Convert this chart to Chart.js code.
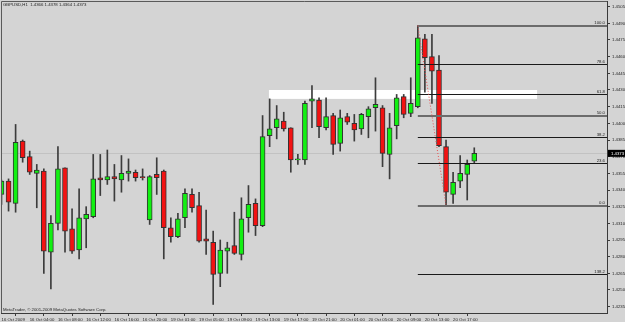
<!DOCTYPE html>
<html>
<head>
<meta charset="utf-8">
<script src="https://cdn.jsdelivr.net/npm/chart.js@4.4.1/dist/chart.umd.min.js"></script>
<style>
    html, body { margin: 0; padding: 0; background: #d4d4d4; }
    #grafico { display: block; }
</style>
</head>
<body>
<canvas id="grafico" width="625" height="322"></canvas>
<script>
// GBPUSD H1, one value per bar (bar 0 = 16 Oct 2009 00:00)
const abertura = [
    1.4336, 1.4348, 1.4328, 1.4384, 1.4370, 1.4355, 1.4357, 1.4284, 1.4310, 1.4360,
    1.4305, 1.4286, 1.4314, 1.4316, 1.4351, 1.4349, 1.4352, 1.4349, 1.4355, 1.4356,
    1.4352, 1.4313, 1.4354, 1.4357, 1.4306, 1.4298, 1.4315, 1.4336, 1.4326, 1.4296,
    1.4293, 1.4265, 1.4285, 1.4290, 1.4282, 1.4315, 1.4328, 1.4308, 1.4389, 1.4396,
    1.4402, 1.4396, 1.4367, 1.4367, 1.4420, 1.4421, 1.4396, 1.4407, 1.4382, 1.4406,
    1.4400, 1.4395, 1.4406, 1.4414, 1.4414, 1.4372, 1.4398, 1.4424, 1.4409, 1.4415,
    1.4476, 1.4460, 1.4448, 1.4379, 1.4336, 1.4348, 1.4354, 1.4366
];
const maxima = [
    1.4349, 1.4350, 1.4399, 1.4385, 1.4375, 1.4363, 1.4359, 1.4317, 1.4379, 1.4360,
    1.4323, 1.4341, 1.4325, 1.4372, 1.4372, 1.4376, 1.4363, 1.4371, 1.4368, 1.4358,
    1.4359, 1.4353, 1.4369, 1.4358, 1.4315, 1.4319, 1.4341, 1.4341, 1.4338, 1.4322,
    1.4303, 1.4295, 1.4293, 1.4320, 1.4333, 1.4344, 1.4332, 1.4407, 1.4422, 1.4416,
    1.4410, 1.4396, 1.4372, 1.4420, 1.4434, 1.4423, 1.4423, 1.4409, 1.4412, 1.4409,
    1.4408, 1.4409, 1.4415, 1.4441, 1.4416, 1.4409, 1.4426, 1.4426, 1.4441, 1.4488,
    1.4480, 1.4480, 1.4461, 1.4385, 1.4356, 1.4371, 1.4367, 1.4378
];
const minima = [
    1.4327, 1.4321, 1.4320, 1.4365, 1.4354, 1.4324, 1.4265, 1.4251, 1.4304, 1.4284,
    1.4283, 1.4278, 1.4288, 1.4315, 1.4335, 1.4345, 1.4330, 1.4338, 1.4348, 1.4348,
    1.4349, 1.4309, 1.4336, 1.4278, 1.4293, 1.4297, 1.4306, 1.4320, 1.4293, 1.4282,
    1.4237, 1.4253, 1.4265, 1.4282, 1.4277, 1.4302, 1.4299, 1.4307, 1.4379, 1.4386,
    1.4393, 1.4356, 1.4363, 1.4363, 1.4396, 1.4387, 1.4394, 1.4372, 1.4375, 1.4399,
    1.4384, 1.4390, 1.4387, 1.4393, 1.4361, 1.4350, 1.4386, 1.4405, 1.4406, 1.4414,
    1.4428, 1.4418, 1.4379, 1.4326, 1.4328, 1.4342, 1.4331, 1.4364
];
const fechamento = [
    1.4348, 1.4329, 1.4383, 1.4369, 1.4356, 1.4358, 1.4285, 1.4310, 1.4359, 1.4303,
    1.4285, 1.4315, 1.4318, 1.4350, 1.4349, 1.4352, 1.4350, 1.4355, 1.4357, 1.4351,
    1.4351, 1.4352, 1.4351, 1.4306, 1.4298, 1.4314, 1.4337, 1.4324, 1.4294, 1.4294,
    1.4264, 1.4286, 1.4288, 1.4283, 1.4314, 1.4327, 1.4308, 1.4388, 1.4395, 1.4404,
    1.4395, 1.4367, 1.4368, 1.4418, 1.4422, 1.4397, 1.4406, 1.4381, 1.4405, 1.4401,
    1.4394, 1.4408, 1.4413, 1.4417, 1.4373, 1.4396, 1.4423, 1.4408, 1.4418, 1.4477,
    1.4459, 1.4447, 1.4380, 1.4338, 1.4347, 1.4355, 1.4363, 1.4373
];

const rotulosTempo = [
    "16 Oct 2009", "16 Oct 04:00", "16 Oct 08:00", "16 Oct 12:00", "16 Oct 16:00",
    "16 Oct 20:00", "19 Oct 01:00", "19 Oct 05:00", "19 Oct 09:00", "19 Oct 13:00",
    "19 Oct 17:00", "19 Oct 21:00", "20 Oct 01:00", "20 Oct 05:00", "20 Oct 09:00",
    "20 Oct 13:00", "20 Oct 17:00"
];
const passoRotulo = 4;

const ticksPreco = [
    1.4235, 1.4250, 1.4265, 1.4280, 1.4295, 1.4310, 1.4325, 1.4340, 1.4355, 1.4370,
    1.4385, 1.4400, 1.4415, 1.4430, 1.4445, 1.4460, 1.4475, 1.4490, 1.4505
];

// fibonacci drawn from the high of bar 59 to the low of bar 63
const niveisFibo = [0, 0.236, 0.382, 0.5, 0.618, 0.786, 1, -0.382];
const rotulosFibo = ["0.0", "23.6", "38.2", "50.0", "61.8", "78.6", "100.0", "138.2"];
const barraTopoFibo = 59;
const barraFundoFibo = 63;

// white rectangle (bars and prices)
const zonaInicio = 37.9;
const zonaFim = 75.9;
const zonaTopo = 1.4430;
const zonaBase = 1.4422;

const fonte = "'Liberation Sans', Arial, sans-serif";
const tamanhoFonte = 4.3;
const corTexto = "#1e1e1e";

const ultima = fechamento.length - 1;

const indices = abertura.map((_, i) => i);

const sombras = indices.map(i => ({ x: i, y: [minima[i], maxima[i]] }));
const corpos = indices.map(i => ({ x: i, y: [abertura[i], fechamento[i]] }));
const coresCorpo = indices.map(i => fechamento[i] >= abertura[i] ? "#12f012" : "#f21212");

const desenhos = {
    id: "desenhos",

    beforeDraw(chart) {
        const c = chart.ctx;
        c.save();
        c.fillStyle = "#d4d4d4";
        c.fillRect(0, 0, chart.width, chart.height);
        c.restore();
    },

    beforeDatasetsDraw(chart) {
        const { ctx: c, chartArea: a, scales: { x, y } } = chart;
        c.save();

        const x1 = x.getPixelForValue(zonaInicio);
        const x2 = x.getPixelForValue(zonaFim);
        const y1 = y.getPixelForValue(zonaTopo);
        const y2 = y.getPixelForValue(zonaBase);
        c.fillStyle = "#ffffff";
        c.fillRect(x1, y1, x2 - x1, y2 - y1);

        // bid line
        const yp = Math.round(y.getPixelForValue(fechamento[ultima])) + 0.5;
        c.strokeStyle = "#c2c2c2";
        c.lineWidth = 1;
        c.beginPath();
        c.moveTo(a.left, yp);
        c.lineTo(a.right, yp);
        c.stroke();

        c.restore();
    },

    afterDatasetsDraw(chart) {
        const { ctx: c, chartArea: a, scales: { x, y } } = chart;
        const alto = maxima[barraTopoFibo];
        const baixo = minima[barraFundoFibo];
        const xInicio = x.getPixelForValue(barraTopoFibo);

        c.save();
        c.beginPath();
        c.rect(a.left, a.top, a.right - a.left, a.bottom - a.top);
        c.clip();

        niveisFibo.forEach((nivel, i) => {
            const preco = baixo + nivel * (alto - baixo);
            const forte = nivel === 0 || nivel === 0.5 || nivel === 1;
            const yl = Math.round(y.getPixelForValue(preco)) + (forte ? 0 : 0.5);

            c.strokeStyle = forte ? "#6c6c6c" : "#1a1a1a";
            c.lineWidth = forte ? 2 : 1;
            c.beginPath();
            c.moveTo(xInicio, yl);
            c.lineTo(a.right, yl);
            c.stroke();

            c.fillStyle = corTexto;
            c.font = `${tamanhoFonte}px ${fonte}`;
            c.textAlign = "right";
            c.textBaseline = "bottom";
            c.fillText(rotulosFibo[i], a.right - 2, yl - 1);
        });

        // trend line of the fibonacci
        c.strokeStyle = "#e85050";
        c.lineWidth = 1;
        c.setLineDash([1, 2]);
        c.beginPath();
        c.moveTo(xInicio, y.getPixelForValue(alto));
        c.lineTo(x.getPixelForValue(barraFundoFibo), y.getPixelForValue(baixo));
        c.stroke();

        c.restore();
    },

    afterDraw(chart) {
        const { ctx: c, chartArea: a, scales: { y } } = chart;
        c.save();

        // frame
        c.strokeStyle = "#5a5a5a";
        c.lineWidth = 1;
        c.beginPath();
        c.moveTo(a.left + 0.5, a.bottom);
        c.lineTo(a.left + 0.5, a.top + 0.5);
        c.lineTo(a.right, a.top + 0.5);
        c.stroke();

        c.font = `${tamanhoFonte}px ${fonte}`;
        c.fillStyle = corTexto;
        c.textAlign = "left";
        c.textBaseline = "middle";

        const titulo = "GBPUSD,H1  " + [abertura[ultima], maxima[ultima], minima[ultima], fechamento[ultima]]
            .map(v => v.toFixed(4)).join(" ");
        c.fillText(titulo, 3, 4.5);

        c.fillText("MetaTrader, \u00a9 2001-2009 MetaQuotes Software Corp.", 3, 310);

        // current price box
        const yp = y.getPixelForValue(fechamento[ultima]);
        c.fillStyle = "#000000";
        c.fillRect(a.right + 1, yp - 3.5, chart.width - a.right - 1, 7);
        c.fillStyle = "#ffffff";
        c.fillText(fechamento[ultima].toFixed(4), a.right + 4, yp);

        c.restore();
    }
};

const ctx = document.getElementById("grafico");

const grafico = new Chart(ctx, {
    type: "bar",
    data: {
        datasets: [
            {
                label: "sombras",
                data: sombras,
                backgroundColor: "#3c3c3c",
                barThickness: 1,
                grouped: false,
                order: 2
            },
            {
                label: "corpos",
                data: corpos,
                backgroundColor: coresCorpo,
                borderColor: "#333333",
                borderWidth: 1,
                borderSkipped: false,
                barThickness: 5,
                grouped: false,
                order: 1
            }
        ]
    },
    options: {
        responsive: false,
        animation: false,
        layout: { padding: { left: 1, top: 1, right: 0, bottom: 0 } },
        plugins: {
            legend: { display: false },
            tooltip: { enabled: false }
        },
        scales: {
            x: {
                type: "linear",
                offset: false,
                min: -0.07,
                max: 85.81,
                afterBuildTicks: s => {
                    s.ticks = rotulosTempo.map((_, i) => ({ value: i * passoRotulo }));
                },
                afterFit: s => {
                    s.height = 9;
                    s.paddingLeft = 0;
                    s.paddingRight = 0;
                },
                ticks: {
                    autoSkip: false,
                    maxRotation: 0,
                    align: "start",
                    padding: 1,
                    color: corTexto,
                    font: { family: fonte, size: tamanhoFonte },
                    callback: v => rotulosTempo[Math.round(v / passoRotulo)]
                },
                grid: { drawOnChartArea: false, tickLength: 3, color: "#3a3a3a" },
                border: { color: "#3a3a3a", width: 1 }
            },
            y: {
                position: "right",
                min: 1.42293,
                max: 1.45101,
                afterBuildTicks: s => {
                    s.ticks = ticksPreco.map(v => ({ value: v }));
                },
                afterFit: s => {
                    s.width = 18;
                    s.paddingTop = 0;
                    s.paddingBottom = 0;
                },
                ticks: {
                    padding: 2,
                    color: corTexto,
                    font: { family: fonte, size: tamanhoFonte },
                    callback: v => v.toFixed(4)
                },
                grid: { drawOnChartArea: false, tickLength: 3, color: "#3a3a3a" },
                border: { color: "#3a3a3a", width: 1 }
            }
        }
    },
    plugins: [desenhos]
});
</script>
</body>
</html>
